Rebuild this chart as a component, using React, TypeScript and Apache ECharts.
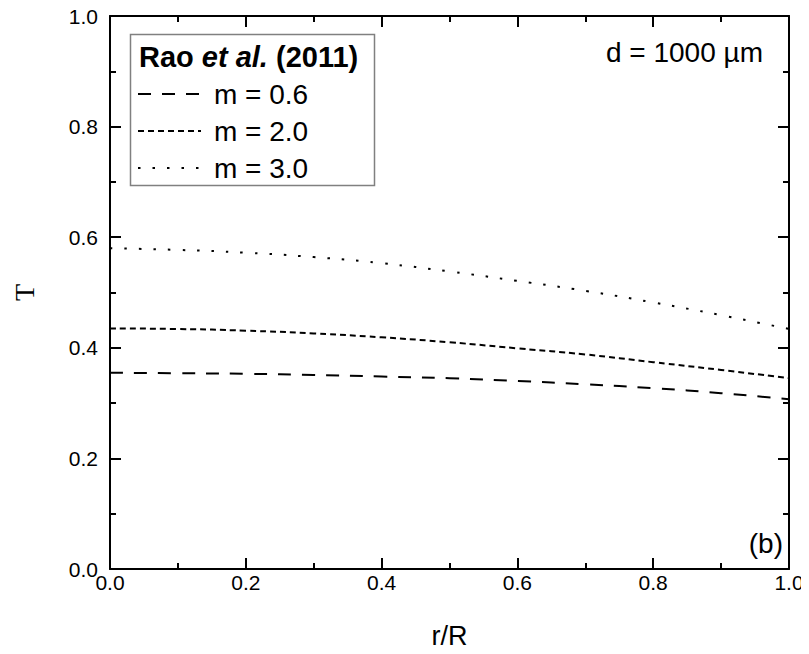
import React, { useEffect, useRef } from "react";
import * as echarts from "echarts";

const rR = [0, 0.1, 0.2, 0.3, 0.4, 0.5, 0.6, 0.7, 0.8, 0.9, 1.0];
const m06 = [0.355, 0.354, 0.353, 0.351, 0.348, 0.345, 0.340, 0.334, 0.327, 0.318, 0.307];
const m20 = [0.435, 0.434, 0.431, 0.426, 0.419, 0.410, 0.399, 0.388, 0.374, 0.360, 0.345];
const m30 = [0.580, 0.577, 0.572, 0.564, 0.553, 0.538, 0.521, 0.503, 0.482, 0.459, 0.434];
const seriesNames = ["m = 0.6", "m = 2.0", "m = 3.0"];
const dashes: number[][] = [[13, 11], [6, 4], [2.5, 12]];

const FONT = "'Liberation Sans', Arial, sans-serif";

export default function App() {
  const ref = useRef<HTMLDivElement>(null);
  useEffect(() => {
    if (!ref.current) return;
    const chart = echarts.init(ref.current, null, { renderer: "svg" });
    const values = [m06, m20, m30];
    const axisCommon = {
      type: "value" as const,
      min: 0,
      max: 1,
      interval: 0.2,
      axisLine: { show: true, onZero: false, lineStyle: { color: "#000", width: 2 } },
      axisTick: { show: true, inside: true, length: 11, lineStyle: { color: "#000", width: 2 } },
      minorTick: { show: true, splitNumber: 2, length: 6, lineStyle: { color: "#000", width: 2 } },
      splitLine: { show: false },
      minorSplitLine: { show: false },
    };
    chart.setOption({
      animation: false,
      backgroundColor: "#fff",
      grid: { left: 110, top: 16, right: 20, bottom: 85, containLabel: false },
      xAxis: [
        {
          ...axisCommon,
          position: "bottom",
          name: "r/R",
          nameLocation: "middle",
          nameGap: 53,
          nameTextStyle: { fontFamily: FONT, fontSize: 27, color: "#000" },
          axisLabel: {
            fontFamily: FONT,
            fontSize: 21,
            color: "#000",
            margin: 3,
            formatter: (v: number) => v.toFixed(1),
          },
        },
        {
          ...axisCommon,
          position: "top",
          axisLabel: { show: false },
        },
      ],
      yAxis: [
        {
          ...axisCommon,
          position: "left",
          name: "T",
          nameLocation: "middle",
          nameGap: 72,
          nameTextStyle: { fontFamily: "'Liberation Serif', 'DejaVu Serif', serif", fontSize: 28, color: "#000" },
          axisLabel: {
            fontFamily: FONT,
            fontSize: 21,
            color: "#000",
            margin: 12,
            formatter: (v: number) => v.toFixed(1),
          },
        },
        {
          ...axisCommon,
          position: "right",
          axisLabel: { show: false },
        },
      ],
      legend: {
        orient: "vertical",
        left: 137,
        top: 80,
        padding: 0,
        itemWidth: 63,
        itemHeight: 12,
        itemGap: 9,
        data: seriesNames,
        itemStyle: { opacity: 0 },
        textStyle: { fontFamily: FONT, fontSize: 28, color: "#000", lineHeight: 28, padding: [0, 0, 0, 8] },
        lineStyle: { width: 2 },
      },
      graphic: [
        {
          type: "rect",
          left: 128,
          top: 32,
          shape: { width: 244, height: 151 },
          style: { fill: "none", stroke: "#808080", lineWidth: 1.5 },
          z: 0,
        },
        {
          type: "text",
          x: 139,
          y: 57,
          style: {
            text: "{b|Rao }{bi|et al.}{b| (2011)}",
            verticalAlign: "middle",
            rich: {
              b: { fontFamily: FONT, fontSize: 29, fontWeight: "bold", fill: "#000" },
              bi: { fontFamily: FONT, fontSize: 29, fontWeight: "bold", fontStyle: "italic", fill: "#000" },
            },
          },
        },
        {
          type: "text",
          x: 763,
          y: 52,
          style: {
            text: "d = 1000 µm",
            align: "right",
            verticalAlign: "middle",
            fontFamily: FONT,
            fontSize: 28,
            fill: "#000",
          },
        },
        {
          type: "text",
          x: 783,
          y: 543,
          style: {
            text: "(b)",
            align: "right",
            verticalAlign: "middle",
            fontFamily: FONT,
            fontSize: 28,
            fill: "#000",
          },
        },
      ],
      series: values.map((vals, i) => ({
        type: "line",
        name: seriesNames[i],
        smooth: true,
        symbol: "none",
        showSymbol: false,
        data: rR.map((x, j) => [x, vals[j]]),
        lineStyle: { color: "#000", width: 2, type: dashes[i] },
        itemStyle: { color: "#000" },
      })),
    });
    return () => chart.dispose();
  }, []);
  return <div ref={ref} style={{ width: 809, height: 654, margin: -8 }} />;
}
